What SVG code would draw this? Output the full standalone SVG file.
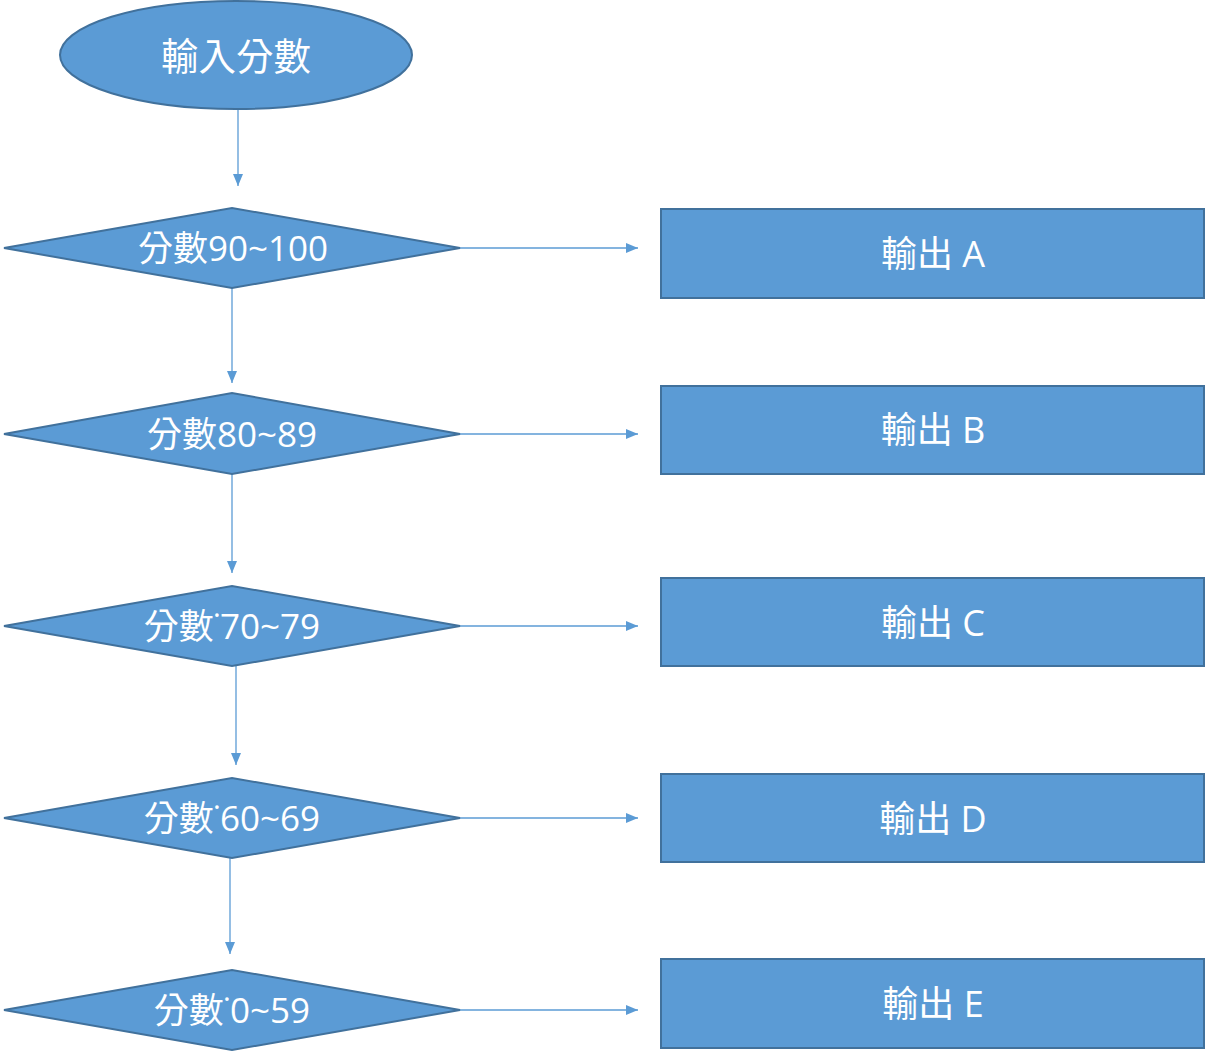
<svg xmlns="http://www.w3.org/2000/svg" width="1205" height="1056" viewBox="0 0 1205 1056">
<style>
.shape{fill:#5B9BD5;stroke:#41719C;stroke-width:2}
.lbl{fill:#ffffff;font-family:"Open Sans","Noto Sans CJK TC",sans-serif;text-anchor:middle;dominant-baseline:central}
.conn{stroke:#5B9BD5;stroke-width:1.3;fill:none;marker-end:url(#ah)}
</style>
<defs>
<marker id="ah" viewBox="0 0 12 10" refX="12" refY="5" markerWidth="12" markerHeight="10" markerUnits="userSpaceOnUse" orient="auto">
<path d="M0,0 L12,5 L0,10 z" fill="#5B9BD5"/>
</marker>
</defs>
<rect width="1205" height="1056" fill="#ffffff"/>
<g id="connectors">
<line class="conn" x1="238" y1="109" x2="238" y2="186"/>
<line class="conn" x1="232" y1="288" x2="232" y2="383"/>
<line class="conn" x1="232" y1="474" x2="232" y2="573"/>
<line class="conn" x1="236" y1="666" x2="236" y2="765"/>
<line class="conn" x1="230" y1="858" x2="230" y2="954"/>
<line class="conn" x1="460" y1="248" x2="638" y2="248"/>
<line class="conn" x1="460" y1="434" x2="638" y2="434"/>
<line class="conn" x1="460" y1="626" x2="638" y2="626"/>
<line class="conn" x1="460" y1="818" x2="638" y2="818"/>
<line class="conn" x1="460" y1="1010" x2="638" y2="1010"/>
</g>
<g id="start">
<ellipse class="shape" cx="236" cy="55" rx="176" ry="54"/>
<text class="lbl" x="236" y="55" font-size="37.5">輸入分數</text>
</g>
<g id="d1">
<polygon class="shape" points="4,248 232,208 460,248 232,288"/>
<text class="lbl" x="233" y="247" font-size="35">分數90~100</text>
</g>
<g id="d2">
<polygon class="shape" points="4,434 232,393 460,434 232,474"/>
<text class="lbl" x="232" y="433" font-size="35">分數80~89</text>
</g>
<g id="d3">
<polygon class="shape" points="4,626 232,586 460,626 232,666"/>
<text class="lbl" x="232" y="625" font-size="35">分數˙70~79</text>
</g>
<g id="d4">
<polygon class="shape" points="4,818 232,778 460,818 232,858"/>
<text class="lbl" x="232" y="817" font-size="35">分數˙60~69</text>
</g>
<g id="d5">
<polygon class="shape" points="4,1010 232,970 460,1010 232,1050"/>
<text class="lbl" x="232" y="1009" font-size="35">分數˙0~59</text>
</g>
<g id="outA">
<rect class="shape" x="661" y="209" width="543" height="89"/>
<text class="lbl" x="933" y="253" font-size="36">輸出 A</text>
</g>
<g id="outB">
<rect class="shape" x="661" y="386" width="543" height="88"/>
<text class="lbl" x="933" y="429" font-size="36">輸出 B</text>
</g>
<g id="outC">
<rect class="shape" x="661" y="578" width="543" height="88"/>
<text class="lbl" x="933" y="622" font-size="36">輸出 C</text>
</g>
<g id="outD">
<rect class="shape" x="661" y="774" width="543" height="88"/>
<text class="lbl" x="933" y="818" font-size="36">輸出 D</text>
</g>
<g id="outE">
<rect class="shape" x="661" y="959" width="543" height="89"/>
<text class="lbl" x="933" y="1003" font-size="36">輸出 E</text>
</g>
</svg>
